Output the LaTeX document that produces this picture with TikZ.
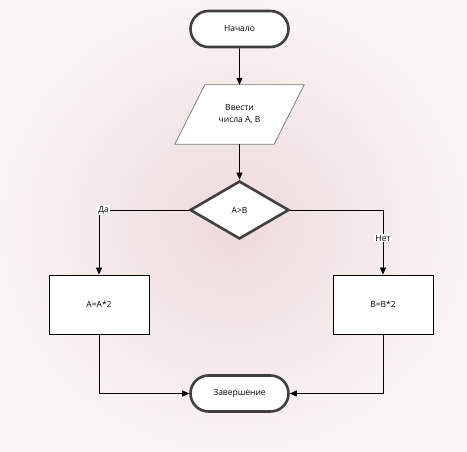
\documentclass[tikz,border=0pt]{standalone}
\usepackage{fontspec}
\setmainfont{Open Sans}
\usetikzlibrary{shapes.geometric,shapes.misc,arrows.meta,shadows}
\definecolor{edge}{RGB}{64,64,64}
\definecolor{bgin}{RGB}{238,218,218}
\definecolor{bgout}{RGB}{250,244,244}
\definecolor{pgram}{RGB}{128,128,128}
\tikzset{
  every node/.style={font=\fontsize{8.5}{12}\selectfont, text=black},
  term/.style={rounded rectangle, draw=edge, line width=2.6pt, fill=white,
    minimum width=98pt, minimum height=36pt, inner sep=0pt},
  proc/.style={rectangle, draw=black, line width=0.8pt, fill=white,
    minimum width=100pt, minimum height=59pt, inner sep=0pt},
  decis/.style={diamond, draw=edge, line width=2.6pt, fill=white,
    minimum width=99pt, minimum height=58pt, inner sep=0pt},
  conn/.style={line width=0.8pt, -{Triangle[length=7pt,width=6pt]}},
  lbl/.style={fill=white, inner sep=1pt}
}
\begin{document}
\begin{tikzpicture}[x=1pt,y=-1pt]
\shade[inner color=bgin, outer color=bgout] (0,0) rectangle (467,452);
\useasboundingbox (0,0) rectangle (467,452);
\node[term] (start) at (239.5,29) {Начало};
\node[minimum width=99pt, minimum height=59pt, inner sep=0pt, align=center] (inp) at (239.5,114.5) {};
\draw[pgram, line width=0.8pt, fill=white]
  ([xshift=15pt]inp.north west) -- ([xshift=15pt]inp.north east) --
  ([xshift=-15pt]inp.south east) -- ([xshift=-15pt]inp.south west) -- cycle;
\node[align=center] at (inp) {Ввести\\числа A, B};
\node[decis] (dec) at (239.5,210) {A>B};
\node[proc] (pa) at (99,304.5) {A=A*2};
\node[proc] (pb) at (383,304.5) {B=B*2};
\node[term] (end) at (239.5,393.5) {Завершение};
\draw[conn] (start) -- (inp);
\draw[conn] (inp) -- (dec);
\draw[conn] (dec.west) -| (pa.north) node[pos=0.5, lbl, anchor=north west, xshift=-2pt, yshift=5pt] {Да};
\draw[conn] (dec.east) -| (pb.north) node[pos=0.72, lbl] {Нет};
\draw[conn] (pa.south) |- (end.west);
\draw[conn] (pb.south) |- (end.east);
\end{tikzpicture}
\end{document}
